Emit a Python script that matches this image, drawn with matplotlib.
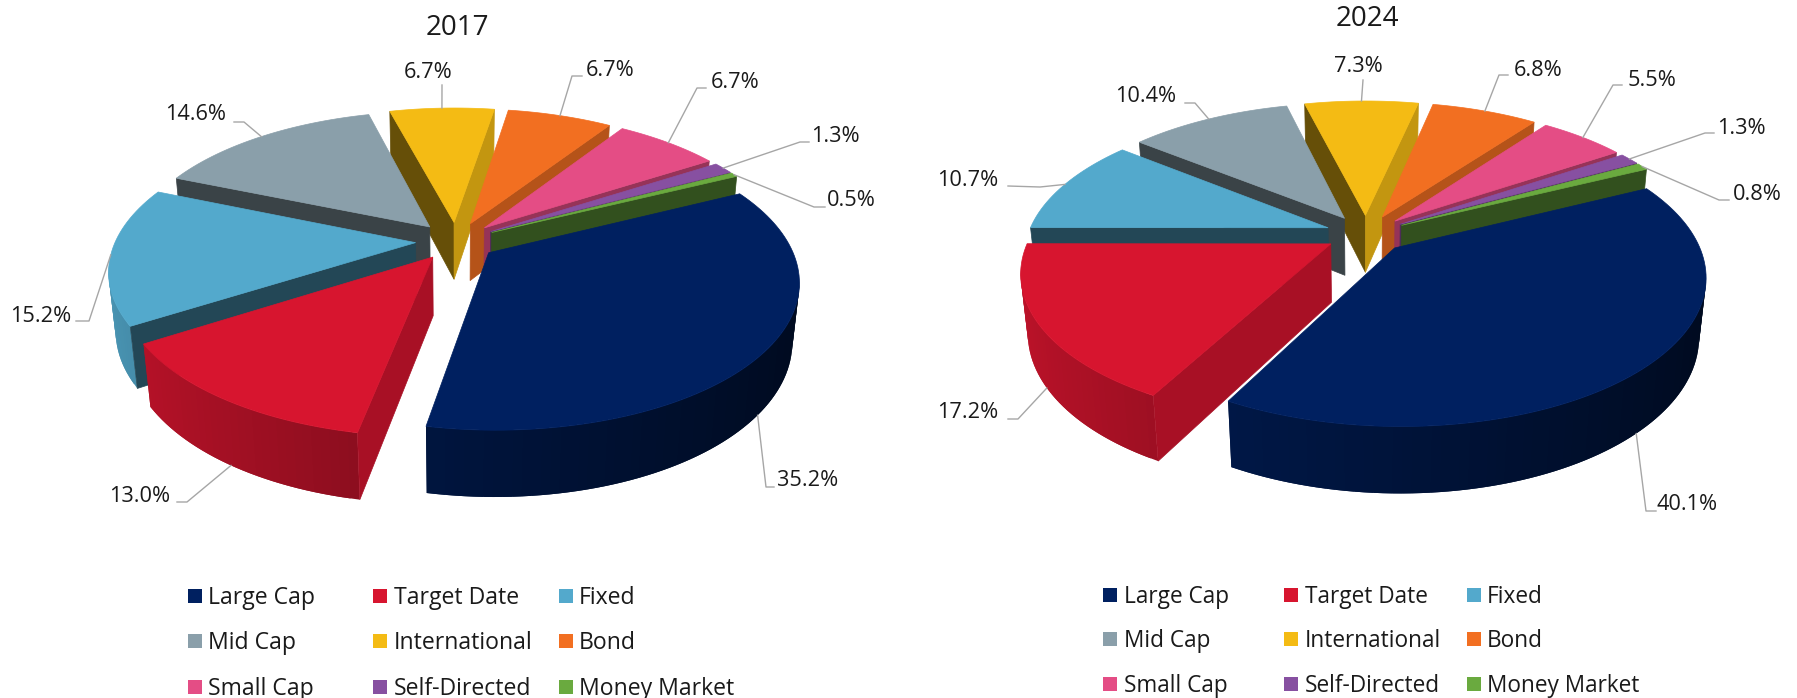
import numpy as np
import matplotlib
matplotlib.use("Agg")
import matplotlib.pyplot as plt
from matplotlib.patches import Polygon, Rectangle
from matplotlib.colors import to_rgb

plt.rcParams['font.family'] = ['Open Sans', 'DejaVu Sans']

############# data ###########################################################
categories = ["Large Cap", "Target Date", "Fixed", "Mid Cap", "International",
              "Bond", "Small Cap", "Self-Directed", "Money Market"]
values_2017 = [35.2, 13.0, 15.2, 14.6, 6.7, 6.7, 6.7, 1.3, 0.5]
values_2024 = [40.1, 17.2, 10.7, 10.4, 7.3, 6.8, 5.5, 1.3, 0.8]
colors = ["#002060", "#D7152F", "#53A9CC", "#8A9FAA", "#F4BB14",
          "#F26F21", "#E44D85", "#8750A1", "#6AAA3F"]
#shade of the straight cut side of each slice
cut_shade = [0.6, 0.78, 0.42, 0.42, 0.8, 0.75, 0.66, 0.55, 0.47]

#leader line elbows and ends, then label centres, in the order of categories
elbows_2017 = [(766, 487), (187, 502), (89, 321), (244, 122), (442, 85),
               (572, 76), (697, 88), (800, 142), (814, 207)]
ends_2017 = [(774, 487), (177, 502), (76, 321), (234, 122), (442, 85),
             (582, 76), (706, 88), (809, 142), (825, 207)]
labels_2017 = [(808, 480), (140, 497), (41, 316), (196, 115), (428, 72),
               (610, 70), (735, 82), (835, 136), (851, 201)]
elbows_2024 = [(1646, 511), (1018, 419), (1040, 187), (1195, 103), (1363, 80),
               (1499, 75), (1613, 85), (1705, 133), (1719, 200)]
ends_2024 = [(1656, 511), (1008, 419), (1008, 186), (1185, 103), (1363, 80),
             (1508, 75), (1622, 85), (1714, 133), (1729, 200)]
labels_2024 = [(1687, 505), (968, 413), (968, 181), (1146, 97), (1358, 67),
               (1538, 70), (1652, 80), (1741, 129), (1757, 195)]

############# camera of the 3D pie ###########################################
A, B, H = 300., 141., 59.   #half width, half height, thickness
K, M = 0.179, 0.02          #perspective along depth and along thickness
EXPLODE = 0.135
START = 64.                 #first slice angle, clockwise from the top

def proj(X, Y, Z, c):
    w = 1 + K*Y + M*Z
    return np.column_stack((c[0] + A*X/w, c[1] - (B*Y - H*Z)/w))

def dark(col, s):
    return tuple(np.array(to_rgb(col))*s)

def radial_wall(ax, t, off, normal, c, col, s):
    #skip the walls that turn their back to the camera
    if off[0]*normal[0] + (off[1] + 1/K)*normal[1] > 0:
        return
    X = np.array([off[0], off[0] + np.sin(t), off[0] + np.sin(t), off[0]])
    Y = np.array([off[1], off[1] + np.cos(t), off[1] + np.cos(t), off[1]])
    Z = np.array([0, 0, 1, 1])
    shade = s if normal[0] > 0 else 0.42
    ax.add_patch(Polygon(proj(X, Y, Z, c), fc=dark(col, shade), ec=dark(col, shade), lw=0.5))

def draw_slice(ax, t0, t1, col, s, c):
    mid = (t0 + t1)/2
    off = EXPLODE*np.array([np.sin(mid), np.cos(mid)])
    th = np.linspace(t0, t1, max(int(np.degrees(t1 - t0)/1.5), 2) + 1)
    X, Y = off[0] + np.sin(th), off[1] + np.cos(th)
    top = proj(X, Y, 0*th, c)
    low = proj(X, Y, 0*th + 1, c)
    #outer wall, darker towards the right, each strip runs under the next one
    seen = X*np.sin(th) + (Y + 1/K)*np.cos(th) < 0
    for i in range(len(th) - 1):
        if not (seen[i] or seen[i + 1]):
            continue
        j = min(i + 2, len(th) - 1)
        sh = 0.60 - 0.28*np.sin((th[i] + th[i + 1])/2)
        ax.add_patch(Polygon([top[i], top[j], low[j], low[i]], fc=dark(col, sh), ec="none"))
    radial_wall(ax, t0, off, (-np.cos(t0), np.sin(t0)), c, col, s)
    radial_wall(ax, t1, off, (np.cos(t1), -np.sin(t1)), c, col, s)
    apex = proj(off[0:1], off[1:2], np.zeros(1), c)
    ax.add_patch(Polygon(np.vstack((apex, top)), fc=col, ec=col, lw=0.5))

def draw_pie(ax, values, c, elbows, ends, label_pos):
    vals = np.array(values)
    edges = np.radians(START + 360*np.concatenate(([0], np.cumsum(vals)))/vals.sum())
    mids = (edges[:-1] + edges[1:])/2
    #back slices first, the front ones are painted over them
    for i in np.argsort(-np.cos(mids)):
        draw_slice(ax, edges[i], edges[i + 1], colors[i], cut_shade[i], c)
    for i in range(len(vals)):
        X = EXPLODE*np.sin(mids[i]) + np.sin(mids[i])
        Y = EXPLODE*np.cos(mids[i]) + np.cos(mids[i])
        Z = 1. if np.cos(mids[i]) < -0.2 else 0.
        p = proj(np.array([X]), np.array([Y]), np.array([Z]), c)[0]
        ax.plot([p[0], elbows[i][0], ends[i][0]], [p[1], elbows[i][1], ends[i][1]],
                color="#A6A6A6", lw=1.0, zorder=5)
        ax.text(label_pos[i][0], label_pos[i][1], "%.1f%%" % values[i], ha="center",
                va="center", fontsize=15.7, color="#1A1A1A", zorder=6)

def draw_legend(ax, box_x, text_x, rows, size):
    for i, name in enumerate(categories):
        r, k = divmod(i, 3)
        ax.add_patch(Rectangle((box_x[k], rows[r] - 7), 14, 14, fc=colors[i], ec="none"))
        ax.text(text_x[k], rows[r] + 2, name, ha="left", va="center", fontsize=size, color="#1A1A1A")

############### MAIN #########################################################
fig = plt.figure(figsize=(17.97, 6.98), dpi=100)
ax = fig.add_axes([0, 0, 1, 1])
ax.set_xlim(0, 1797)
ax.set_ylim(698, 0)
ax.axis("off")

draw_pie(ax, values_2017, (456, 241), elbows_2017, ends_2017, labels_2017)
draw_pie(ax, values_2024, (1366, 234), elbows_2024, ends_2024, labels_2024)

ax.text(457, 28, "2017", ha="center", va="center", fontsize=20, color="#1A1A1A")
ax.text(1367, 19, "2024", ha="center", va="center", fontsize=20, color="#1A1A1A")

draw_legend(ax, (188, 373, 559), (208, 394, 579), (596, 641, 687), 16.6)
draw_legend(ax, (1103, 1284, 1467), (1124, 1305, 1487), (595, 639, 684), 16.3)

fig.savefig("out.png", dpi=100)
